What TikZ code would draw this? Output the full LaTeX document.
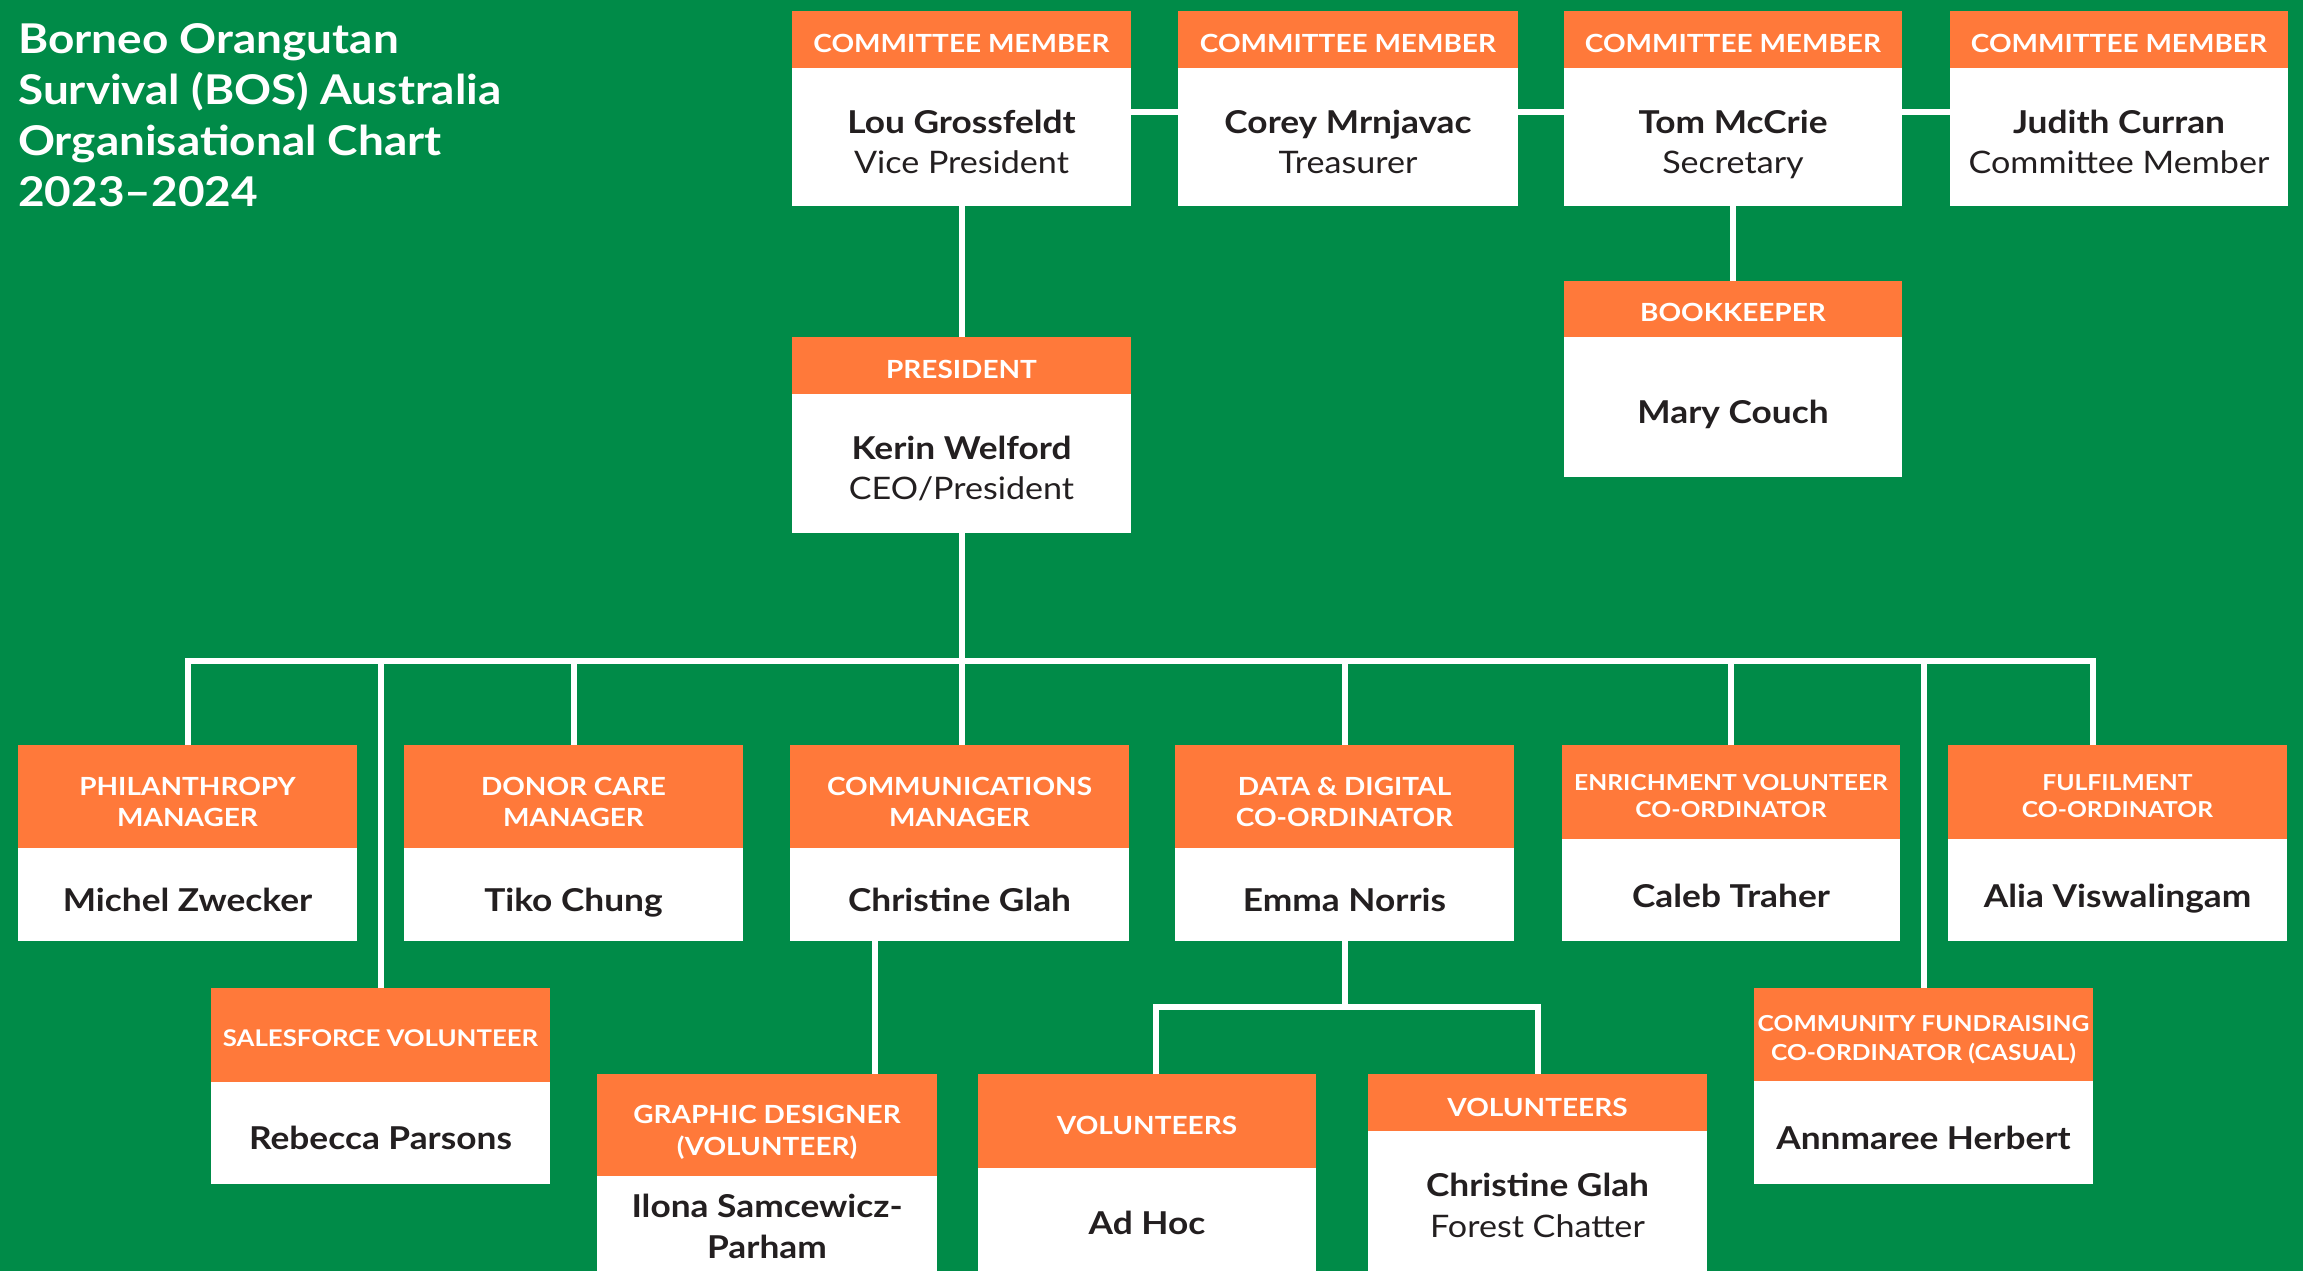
\documentclass[tikz,border=0pt]{standalone}
\usepackage{fontspec}
\setmainfont{Lato}[FakeStretch=1.1, BoldFeatures={FakeStretch=1.12}]
\definecolor{bosgreen}{HTML}{008B48}
\definecolor{bosorange}{HTML}{FF793A}
\definecolor{ink}{HTML}{231F20}
\tikzset{
  bodybox/.style={fill=white, draw=none, inner sep=0pt, outer sep=0pt, anchor=north west},
  headbox/.style={fill=bosorange, draw=none, inner sep=0pt, outer sep=0pt, anchor=north west},
  conn/.style={draw=white, line width=6pt},
  hd/.style={text=white, font=\bfseries\fontsize{25}{30}\selectfont, inner sep=0pt, anchor=base},
  hds/.style={text=white, font=\bfseries\fontsize{22}{26}\selectfont, inner sep=0pt, anchor=base},
  nm/.style={text=ink, font=\bfseries\fontsize{31.5}{37}\selectfont, inner sep=0pt, anchor=base},
  sb/.style={text=ink, font=\fontsize{31}{37}\selectfont, inner sep=0pt, anchor=base},
  ttl/.style={text=white, font=\bfseries\fontsize{41}{49}\selectfont, inner sep=0pt, anchor=base west}
}
\newcommand\obox[6]{%
  \pgfmathsetmacro\obw{#4-#2}%
  \pgfmathsetmacro\obh{#5-#3}%
  \pgfmathsetmacro\obhh{#6-#3}%
  \node[bodybox, minimum width=\obw pt, minimum height=\obh pt] (#1) at (#2,#3) {};%
  \node[headbox, minimum width=\obw pt, minimum height=\obhh pt] (#1-h) at (#2,#3) {};%
}
\begin{document}
\begin{tikzpicture}[x=1pt,y=-1pt]
\useasboundingbox (0,0) rectangle (2303,1271);
\clip (0,0) rectangle (2303,1271);
\fill[bosgreen] (0,0) rectangle (2303,1271);

% title
\node[ttl] (t1) at (18,54) {Borneo Orangutan};
\node[ttl] (t2) at (18,105) {Survival (BOS) Australia};
\node[ttl] (t3) at (18,156) {Organisational Chart};
\node[ttl] (t4) at (18,207) {2023–2024};

% boxes
\obox{lou}{792}{11}{1131}{206}{68}
\obox{corey}{1178}{11}{1518}{206}{68}
\obox{tom}{1564}{11}{1902}{206}{68}
\obox{judith}{1950}{11}{2288}{206}{68}
\obox{pres}{792}{337}{1131}{533}{394}
\obox{book}{1564}{281}{1902}{477}{337}
\obox{phil}{18}{745}{357}{941}{848}
\obox{donor}{404}{745}{743}{941}{848}
\obox{comm}{790}{745}{1129}{941}{848}
\obox{data}{1175}{745}{1514}{941}{848}
\obox{enrich}{1562}{745}{1900}{941}{839}
\obox{fulf}{1948}{745}{2287}{941}{839}
\obox{sales}{211}{988}{550}{1184}{1082}
\obox{gd}{597}{1074}{937}{1290}{1176}
\obox{adhoc}{978}{1074}{1316}{1290}{1168}
\obox{vol}{1368}{1074}{1707}{1290}{1131}
\obox{comf}{1754}{988}{2093}{1184}{1081}

% connectors
\coordinate (bus) at (0,661);
\coordinate (fulfin) at ([xshift=-24.5pt]fulf.north);
\coordinate (gdin) at ([xshift=-62pt]gd.north east);
\coordinate (vbus) at (0,1007);
\coordinate (ahin) at ([xshift=9pt]adhoc.north);
\draw[conn] (lou.south) -- (pres.north);
\draw[conn] (lou.east |- 0,112) -- (corey.west |- 0,112);
\draw[conn] (corey.east |- 0,112) -- (tom.west |- 0,112);
\draw[conn] (tom.east |- 0,112) -- (judith.west |- 0,112);
\draw[conn] (tom.south) -- (book.north);
\draw[conn] (pres.south) -- (pres.south |- bus);
\draw[conn] (phil.north) |- (fulfin |- bus) -- (fulfin);
\draw[conn] (sales.north) -- (sales.north |- bus);
\draw[conn] (donor.north) -- (donor.north |- bus);
\draw[conn] (pres.south |- comm.north) -- (pres.south |- bus);
\draw[conn] (data.north) -- (data.north |- bus);
\draw[conn] (enrich.north) -- (enrich.north |- bus);
\draw[conn] (comf.north) -- (comf.north |- bus);
\draw[conn] (gdin |- comm.south) -- (gdin);
\draw[conn] (data.south) -- (data.south |- vbus);
\draw[conn] (ahin) -- (ahin |- vbus) -- (vol.north |- vbus) -- (vol.north);

% texts top row
\node[hd] (lou-t) at (lou.center |- 0,53) {COMMITTEE MEMBER};
\node[nm] (lou-n) at (lou.center |- 0,134) {Lou Grossfeldt};
\node[sb] (lou-s) at (lou.center |- 0,173) {Vice President};
\node[hd] (corey-t) at (corey.center |- 0,53) {COMMITTEE MEMBER};
\node[nm] (corey-n) at (corey.center |- 0,134) {Corey Mrnjavac};
\node[sb] (corey-s) at (corey.center |- 0,173) {Treasurer};
\node[hd] (tom-t) at (tom.center |- 0,53) {COMMITTEE MEMBER};
\node[nm] (tom-n) at (tom.center |- 0,134) {Tom McCrie};
\node[sb] (tom-s) at (tom.center |- 0,173) {Secretary};
\node[hd] (judith-t) at (judith.center |- 0,53) {COMMITTEE MEMBER};
\node[nm] (judith-n) at (judith.center |- 0,134) {Judith Curran};
\node[sb] (judith-s) at (judith.center |- 0,173) {Committee Member};
\node[hd] (pres-t) at (pres.center |- 0,378) {PRESIDENT};
\node[nm] (pres-n) at (pres.center |- 0,459) {Kerin Welford};
\node[sb] (pres-s) at (pres.center |- 0,499) {CEO/President};
\node[hd] (book-t) at (book.center |- 0,321) {BOOKKEEPER};
\node[nm] (book-n) at (book.center |- 0,423) {Mary Couch};

% second row
\node[hd] (phil-t1) at (phil.center |- 0,795) {PHILANTHROPY};
\node[hd] (phil-t2) at (phil.center |- 0,826) {MANAGER};
\node[nm] (phil-n) at (phil.center |- 0,911) {Michel Zwecker};
\node[hd] (donor-t1) at (donor.center |- 0,795) {DONOR CARE};
\node[hd] (donor-t2) at (donor.center |- 0,826) {MANAGER};
\node[nm] (donor-n) at (donor.center |- 0,911) {Tiko Chung};
\node[hd] (comm-t1) at (comm.center |- 0,795) {COMMUNICATIONS};
\node[hd] (comm-t2) at (comm.center |- 0,826) {MANAGER};
\node[nm] (comm-n) at (comm.center |- 0,911) {Christine Glah};
\node[hd] (data-t1) at (data.center |- 0,795) {DATA \& DIGITAL};
\node[hd] (data-t2) at (data.center |- 0,826) {CO-ORDINATOR};
\node[nm] (data-n) at (data.center |- 0,911) {Emma Norris};
\node[hds] (enrich-t1) at (enrich.center |- 0,790) {ENRICHMENT VOLUNTEER};
\node[hds] (enrich-t2) at (enrich.center |- 0,817) {CO-ORDINATOR};
\node[nm] (enrich-n) at (enrich.center |- 0,907) {Caleb Traher};
\node[hds] (fulf-t1) at (fulf.center |- 0,790) {FULFILMENT};
\node[hds] (fulf-t2) at (fulf.center |- 0,817) {CO-ORDINATOR};
\node[nm] (fulf-n) at (fulf.center |- 0,907) {Alia Viswalingam};

% third row
\node[hds, font=\bfseries\fontsize{23}{27}\selectfont] (sales-t) at (sales.center |- 0,1046) {SALESFORCE VOLUNTEER};
\node[nm] (sales-n) at (sales.center |- 0,1149) {Rebecca Parsons};
\node[hds] (comf-t1) at (comf.center |- 0,1031) {COMMUNITY FUNDRAISING};
\node[hds] (comf-t2) at (comf.center |- 0,1060) {CO-ORDINATOR (CASUAL)};
\node[nm] (comf-n) at (comf.center |- 0,1149) {Annmaree Herbert};
\node[hd] (gd-t1) at (gd.center |- 0,1123) {GRAPHIC DESIGNER};
\node[hd] (gd-t2) at (gd.center |- 0,1155) {(VOLUNTEER)};
\node[nm] (gd-n1) at (gd.center |- 0,1217) {Ilona Samcewicz-};
\node[nm] (gd-n2) at (gd.center |- 0,1258) {Parham};
\node[hd] (adhoc-t) at (adhoc.center |- 0,1134) {VOLUNTEERS};
\node[nm] (adhoc-n) at (adhoc.center |- 0,1234) {Ad Hoc};
\node[hd] (vol-t) at (vol.center |- 0,1116) {VOLUNTEERS};
\node[nm] (vol-n) at (vol.center |- 0,1196) {Christine Glah};
\node[sb] (vol-s) at (vol.center |- 0,1237) {Forest Chatter};
\end{tikzpicture}
\end{document}
